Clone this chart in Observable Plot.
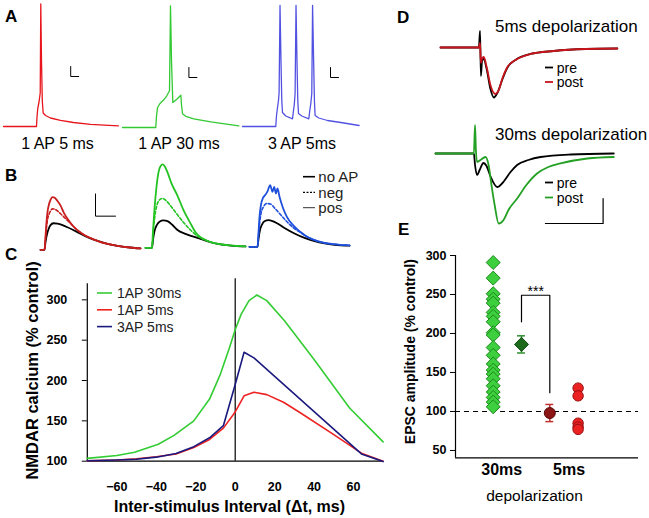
<!DOCTYPE html>
<html><head><meta charset="utf-8">
<script src="https://cdn.jsdelivr.net/npm/d3@7"></script>
<script src="https://cdn.jsdelivr.net/npm/@observablehq/plot@0.6"></script>
<style>
html,body{margin:0;padding:0;background:#fff;}
#fig{position:relative;width:649px;height:518px;overflow:hidden;background:#fff;}
</style></head><body><div id="fig"></div>
<script>
// ================= DATA =================
// Panel A: membrane potential [time ms, Vm mV]
const apLabels = ["1 AP 5 ms", "1 AP 30 ms", "3 AP 5ms"];
const apRed = [[0,-70],[41.25,-70],[41.9,-60.5],[42.9,-51.5],[44.4,-45.5],[45.9,-36.5],[46.6,52.5],[47.5,-4.5],[48.5,-44.5],[49.6,-56.5],[52.5,-59],[58.75,-61.5],[71.25,-63.8],[87.5,-66],[108.75,-67.8],[143.75,-69.3]];
const apGreen = [[0,-70],[41.6,-70],[42.5,-58.3],[43.75,-50.3],[46.6,-46.3],[51.6,-42.3],[55.4,-38.3],[58.75,-33.3],[60,51.7],[61.25,-3.3],[62.9,-45],[67.9,-41.8],[72.9,-37.8],[73.75,-47.3],[75,-56.3],[79.1,-58.8],[89.1,-61.3],[110.4,-64.3],[145.4,-68.3]];
const apBlue = [[0,-70],[41.6,-70],[42.5,-59],[43.75,-51],[45,-44],[45.75,-36],[46.9,51],[48.1,-4],[49.1,-44],[50,-56],[54.1,-59.5],[62.5,-62.3],[63.75,-54],[64.75,-48],[65.75,-37],[66.9,51],[68.1,-4],[69.1,-44],[70,-57],[74.1,-59.5],[82.9,-62.3],[84.1,-54],[85.4,-47],[86.6,-37],[87.6,51],[88.9,-4],[89.9,-44],[90.75,-59],[95.4,-61.5],[106.25,-64],[122.9,-66],[145.75,-69]];
const apBarRed = [[84,-10],[84,-20],[94,-20]];
const apBarGreen = [[83,-10],[83,-20],[93,-20]];
const apBarBlue = [[110,-11],[110,-21],[120,-21]];

// Panel B: NMDAR Ca transients [time ms, dF/F]
const bLegend = ["no AP", "neg", "pos"];
const bRedNo  = [[0,0],[4,0],[5,0.07],[6.5,0.14],[8,0.185],[10,0.222],[13,0.239],[17,0.235],[22,0.222],[27,0.203],[35,0.168],[47,0.114],[57,0.08],[67,0.054],[77,0.036],[87,0.023],[100,0.012]];
const bRedNeg = [[0,0],[4,0],[5,0.1],[6,0.2],[7,0.27],[8.5,0.32],[10,0.35],[12,0.369],[14,0.366],[17,0.35],[20,0.325],[24,0.29],[28,0.255],[33,0.21],[40,0.155],[47,0.118],[53,0.094],[60,0.07],[67,0.054],[77,0.036],[87,0.023],[100,0.012]];
const bRedPos = [[0,0],[4,0],[5,0.12],[6,0.25],[7,0.34],[8.5,0.41],[10,0.45],[12,0.474],[14,0.47],[17,0.44],[20,0.40],[23,0.34],[27,0.28],[33,0.21],[40,0.155],[47,0.118],[53,0.094],[60,0.07],[67,0.054],[77,0.036],[87,0.023],[100,0.012]];
const bGreenNo  = [[0,0],[6.5,0],[7.5,0.07],[9,0.15],[11,0.2],[14,0.235],[18,0.247],[22,0.24],[27,0.205],[32,0.16],[40,0.125],[48,0.1],[55,0.08],[65,0.05],[75,0.03],[85,0.02],[100,0.012]];
const bGreenNeg = [[0,0],[6.5,0],[7.5,0.12],[9,0.26],[11,0.37],[13,0.42],[16.7,0.445],[20,0.43],[24,0.39],[30,0.32],[37,0.24],[45,0.16],[52,0.105],[60,0.07],[65,0.052],[75,0.032],[85,0.021],[100,0.012]];
const bGreenPos = [[0,0],[6.5,0],[7.5,0.15],[9,0.35],[11,0.55],[13,0.68],[15,0.735],[17.3,0.751],[19.5,0.73],[22,0.68],[26,0.58],[31.7,0.475],[38,0.34],[45,0.22],[50,0.14],[55,0.095],[60,0.07],[65,0.052],[75,0.032],[85,0.021],[100,0.012]];
const bBlueNo  = [[0,0],[8,0],[9,0.07],[10.5,0.15],[12.5,0.2],[15,0.23],[19,0.24],[23,0.232],[28,0.21],[35,0.17],[45,0.12],[55,0.08],[65,0.05],[75,0.03],[85,0.018],[100,0.01]];
const bBlueNeg = [[0,0],[8,0],[9,0.1],[10,0.2],[11.5,0.3],[14,0.36],[17.4,0.39],[21,0.385],[25,0.35],[30,0.3],[37,0.23],[44,0.17],[50.7,0.13],[58,0.088],[67.4,0.053],[75,0.035],[84,0.024],[100,0.012]];
const bBluePos = [[0,0],[8,0],[9,0.13],[10,0.27],[11.5,0.38],[13.5,0.44],[15.7,0.466],[18,0.5],[20.7,0.556],[22,0.52],[23,0.495],[24.7,0.54],[26.4,0.48],[28,0.526],[30,0.45],[33.5,0.35],[37.4,0.27],[44,0.19],[50.7,0.135],[58,0.088],[67.4,0.053],[75,0.035],[84,0.024],[100,0.012]];
const bBar = [[55,0.503],[55,0.303],[75,0.303]];

// Panel C: NMDAR calcium vs inter-stimulus interval
const caSeries = ["1AP 30ms", "1AP 5ms", "3AP 5ms"];
const caGreen = [[-75,103.5],[-60,107],[-51,111],[-39,121],[-31,132],[-21,150],[-13,177],[-7.5,208],[-3,240],[0,263],[3,282],[7,299],[11,306],[16,299],[25,274],[40,226],[58,166],[75,124]];
const caRed   = [[-75,100.5],[-60,101.5],[-50,103],[-40,105.5],[-30,109],[-21,117],[-13,127],[-6,141],[0,161],[4.5,181],[9.5,185.5],[16,182.5],[24.5,173],[33,160],[50,133],[64,110],[75,100]];
const caBlue  = [[-75,100.5],[-60,101.5],[-50,102.5],[-40,105],[-30,109.5],[-21,118],[-13,129],[-6,144],[0,195],[4.5,235],[9.5,228],[64,109],[75,99.5]];
const cXTicks = [-60,-40,-20,0,20,40,60];
const cYTicks = [100,150,200,250,300];

// Panel D: EPSC traces [time ms, current pA]
const dLegend = ["pre", "post"];
const dTitles = ["5ms depolarization", "30ms depolarization"];
const d5Pre  = [[0,0],[13.3,0],[13.7,33],[14,-57],[14.4,-27],[15,-23],[16,-43],[17.3,-83],[18.5,-100],[19.7,-91],[21.5,-63],[23.1,-41],[26,-25],[31.2,-13],[39.2,-7],[50.3,-3],[61.3,-2]];
const d5Post = [[0,0],[13.3,0],[13.7,9],[14,-31],[14.4,-22],[15,-19],[16,-39],[17.3,-75],[19,-93],[20.2,-85],[21.5,-61],[23.1,-40],[26,-25],[31.2,-13],[39.2,-7],[50.3,-3],[61.3,-2]];
const d30Pre  = [[0,0],[13.3,0],[13.7,-23],[14.4,-43],[15.3,-33],[16.6,-19],[17.7,-25],[19,-45],[21.4,-67],[23.2,-59],[26,-37],[28.3,-23],[32.2,-13],[36.4,-7],[46.8,-2],[61.8,0]];
const d30Post = [[0,0],[13.3,0],[13.7,57],[14,7],[14.4,-17],[15.6,-13],[17.3,-7],[18.4,-23],[19.4,-63],[20.5,-103],[21.9,-140],[23.6,-133],[25.3,-113],[28.3,-90],[31.5,-63],[35.2,-40],[39.1,-27],[43.3,-20],[52.6,-10],[61.8,-7]];
const dBar = [[38.1,-140],[58.1,-140],[58.1,-90]];

// Panel E: EPSC amplitude (% control)
const eGroups = ["30ms", "5ms"];
const e30 = [291,271,251,244,239,227,222,215,201,198,182,172,161,153,148,142,133,125,118,112,106];
const e5  = [130,120,85,80,77];
const eMean = [186, 98];
const eSem  = [11, 11];
const eYTicks = [50,100,150,200,250,300];
const eBracket = [[1,215],[1,249],[2,249],[2,124]];

// ================= DRAWING =================
const FONT = '"Liberation Sans", Arial, Helvetica, sans-serif';
const fig = document.getElementById("fig");
function place(el, left, top){
  el.style.position = "absolute"; el.style.left = left + "px"; el.style.top = top + "px";
  el.style.overflow = "visible"; el.style.background = "none"; el.style.maxWidth = "none";
  fig.appendChild(el); return el;
}
const xy = {x: d => d[0], y: d => d[1]};
function tracePlot(series, o){
  return Plot.plot({
    width: o.width, height: o.height, margin: 0,
    x: {domain: o.x, axis: null}, y: {domain: o.y, axis: null},
    style: {background: "none", overflow: "visible", fontFamily: FONT},
    marks: series.map(s => Plot.line(s.data, {...xy, stroke: s.color, strokeWidth: s.w ?? 1.5,
      strokeDasharray: s.dash, curve: s.curve ?? "linear"}))
  });
}

// ---- Panel A
const colA = ["#e8161c", "#33c933", "#5252e2"];
const aOpt = {width: 120, height: 130, x: [0,150], y: [-75,55]};
place(tracePlot([{data: apRed, color: colA[0], w: 1.3}, {data: apBarRed, color: "#000", w: 1}], aOpt), 3, 0.5);
place(tracePlot([{data: apGreen, color: colA[1], w: 1.3}, {data: apBarGreen, color: "#000", w: 1}], aOpt), 121.7, 1.7);
place(tracePlot([{data: apBlue, color: colA[2], w: 1.3}, {data: apBarBlue, color: "#000", w: 1}], aOpt), 241.7, 1);

// ---- Panel B
const bOpt = {width: 105, height: 105, x: [0,105], y: [-0.0514, 0.8946]};
const bCol = ["#c81e1e", "#22c322", "#1f50dc"];
const mk = (no, neg, pos, c) => [
  {data: no, color: "#000", w: 1.8, curve: "monotone-x"},
  {data: neg, color: c, w: 1.6, dash: "3,2", curve: "monotone-x"},
  {data: pos, color: c, w: 1.8, curve: "monotone-x"}];
place(tracePlot([...mk(bRedNo, bRedNeg, bRedPos, bCol[0]), {data: bBar, color: "#000", w: 1}], bOpt), 40, 150);
place(tracePlot(mk(bGreenNo, bGreenNeg, bGreenPos, bCol[1]), bOpt), 145, 148.4);
place(tracePlot(mk(bBlueNo, bBlueNeg, bBluePos, bCol[2]), bOpt), 249.3, 147.4);

// ---- Panel C
const cCol = ["#33cc33", "#ee2222", "#1a1a7e"];
const cData = [caGreen, caRed, caBlue];
const cPlot = Plot.plot({
  width: 400, height: 288, marginLeft: 86.8, marginRight: 17.4, marginTop: 53.2, marginBottom: 57.3,
  x: {domain: [-75, 75]}, y: {domain: [100, 320]},
  style: {background: "none", overflow: "visible", fontFamily: FONT},
  marks: [
    Plot.axisX({ticks: cXTicks, tickSize: 0, tickPadding: 21, fontSize: 12.5, fontWeight: "bold", label: null}),
    Plot.axisY({ticks: cYTicks, tickSize: 5, tickPadding: 15, fontSize: 12.5, fontWeight: "bold", label: null}),
    Plot.ruleY([100], {stroke: "#000", strokeWidth: 1.2}),
    Plot.ruleX([-75], {y1: 100, y2: 320, stroke: "#000", strokeWidth: 1.2}),
    Plot.ruleX([0], {y1: 100, y2: 326, stroke: "#000", strokeWidth: 1.2, clip: false}),
    ...cData.map((d, i) => Plot.line(d, {...xy, stroke: cCol[i], strokeWidth: 1.6})),
    Plot.text(["Inter-stimulus Interval (\u0394t, ms)"], {text: d => d, frameAnchor: "bottom", dy: 51, dx: -5.7, fontSize: 16, fontWeight: "bold"}),
    Plot.text(["NMDAR calcium (% control)"], {text: d => d, frameAnchor: "left", textAnchor: "middle", rotate: -90, dx: -55, dy: -2, fontSize: 16.5, fontWeight: "bold"})
  ]
});
place(cPlot, 0, 230);

// ---- Panel D
const pxPerMs = 57.7 / 20;
place(tracePlot([{data: d5Pre, color: "#000", w: 1.8, curve: "monotone-x"}, {data: d5Post, color: "#c8141a", w: 1.8, curve: "monotone-x"}],
  {width: 63 * pxPerMs, height: 90, x: [0, 63], y: [-130, 50]}), 440, 21.7);
place(tracePlot([{data: d30Pre, color: "#000", w: 1.8, curve: "monotone-x"}, {data: d30Post, color: "#24a024", w: 1.8, curve: "monotone-x"},
  {data: dBar, color: "#000", w: 1.2}],
  {width: 63 * pxPerMs, height: 115, x: [0, 63], y: [-160, 70]}), 435, 118.3);

// ---- Panel E
const slot = {raw30: 0, mean30: 1, mean5: 2, raw5: 3};
const eLow = 40.6;
const ePlot = Plot.plot({
  width: 249, height: 273, marginLeft: 55, marginRight: 11, marginTop: 10, marginBottom: 60.7,
  x: {domain: [-1.332, 5.134], axis: null}, y: {domain: [eLow, 300]},
  style: {background: "none", overflow: "visible", fontFamily: FONT},
  marks: [
    Plot.axisY({ticks: eYTicks, tickSize: 5, tickPadding: 4, fontSize: 12.5, fontWeight: "bold", label: null}),
    Plot.ruleX([-1.332], {y1: eLow, y2: 300, stroke: "#000", strokeWidth: 1.2}),
    Plot.ruleY([eLow], {stroke: "#000", strokeWidth: 1.2}),
    Plot.ruleY([100], {stroke: "#000", strokeWidth: 1.2, strokeDasharray: "5,4"}),
    Plot.line(eBracket, {...xy, stroke: "#000", strokeWidth: 1.2}),
    Plot.text(["***"], {x: 1.5, y: 254, text: d => d, fontSize: 14}),
    Plot.dot(e30, {x: slot.raw30, y: d => d, symbol: "diamond2", r: 6.3, fill: "#3dcf3d", stroke: "#1d8a1d", strokeWidth: 1}),
    Plot.dot(e5, {x: slot.raw5, y: d => d, r: 5.2, fill: "#ea2222", stroke: "#9a1010", strokeWidth: 1}),
    Plot.ruleX([0], {x: slot.mean30, y1: eMean[0] - eSem[0], y2: eMean[0] + eSem[0], stroke: "#2f8f2f", strokeWidth: 1.5}),
    Plot.ruleY([eMean[0] - eSem[0], eMean[0] + eSem[0]], {x1: slot.mean30 - 0.14, x2: slot.mean30 + 0.14, stroke: "#2f8f2f", strokeWidth: 1.5}),
    Plot.ruleX([0], {x: slot.mean5, y1: eMean[1] - eSem[1], y2: eMean[1] + eSem[1], stroke: "#c23030", strokeWidth: 1.5}),
    Plot.ruleY([eMean[1] - eSem[1], eMean[1] + eSem[1]], {x1: slot.mean5 - 0.14, x2: slot.mean5 + 0.14, stroke: "#c23030", strokeWidth: 1.5}),
    Plot.dot([eMean[0]], {x: slot.mean30, y: d => d, symbol: "diamond2", r: 6.3, fill: "#1d6a1d", stroke: "#0f4a0f", strokeWidth: 1}),
    Plot.dot([eMean[1]], {x: slot.mean5, y: d => d, r: 5.5, fill: "#8c1616", stroke: "#5a0a0a", strokeWidth: 1}),
    Plot.text([eGroups[0]], {x: (slot.raw30 + slot.mean30) / 2 - 0.2, text: d => d, frameAnchor: "bottom", dy: 17.3, fontSize: 16, fontWeight: "bold"}),
    Plot.text([eGroups[1]], {x: (slot.mean5 + slot.raw5) / 2 + 0.18, text: d => d, frameAnchor: "bottom", dy: 17.3, fontSize: 16, fontWeight: "bold"}),
    Plot.text(["depolarization"], {text: d => d, frameAnchor: "bottom", dy: 42.7, dx: -12.5, fontSize: 15.5}),
    Plot.text(["EPSC amplitude (% control)"], {text: d => d, frameAnchor: "left", textAnchor: "middle", rotate: -90, dx: -45, dy: -5, fontSize: 14, fontWeight: "bold"})
  ]
});
place(ePlot, 400, 245);

// ---- Overlay: panel letters, captions, legends
const ov = d3.create("svg").attr("width", 649).attr("height", 518)
  .attr("font-family", FONT)
  .style("position", "absolute").style("left", "0px").style("top", "0px").style("overflow", "visible");
function txt(str, x, y, {size = 14, weight = "normal", anchor = "start", base = "alphabetic", fill = "#000"} = {}) {
  ov.append("text").attr("x", x).attr("y", y).attr("font-size", size).attr("font-weight", weight)
    .attr("text-anchor", anchor).attr("dominant-baseline", base).attr("fill", fill).text(str);
}
function seg(x1, y1, x2, y2, {stroke = "#000", w = 1.5, dash = null} = {}) {
  ov.append("line").attr("x1", x1).attr("y1", y1).attr("x2", x2).attr("y2", y2)
    .attr("stroke", stroke).attr("stroke-width", w).attr("stroke-dasharray", dash);
}
// panel letters
[["A", 5, 22], ["B", 5, 181], ["C", 5, 260], ["D", 397, 23], ["E", 398, 235]]
  .forEach(([s, x, y]) => txt(s, x, y, {size: 17, weight: "bold"}));
// A captions
[57.5, 179, 302].forEach((cx, i) => txt(apLabels[i], cx, 149, {size: 16, anchor: "middle"}));
// B legend
seg(303, 176.7, 315, 176.7, {w: 1.6});
seg(303, 192.3, 315, 192.3, {w: 1.2, dash: "2,1.5"});
seg(303, 207.7, 315, 207.7, {w: 1, stroke: "#333"});
bLegend.forEach((s, i) => txt(s, 318.3, [176.7, 192.3, 207.7][i], {size: 15, base: "central", fill: "#222"}));
// C legend
caSeries.forEach((s, i) => {
  const y = 293 + i * 16.8;
  seg(97, y, 112, y, {stroke: cCol[i], w: 1.6});
  txt(s, 117, y, {size: 14, base: "central", fill: "#222"});
});
// D titles + legends
txt(dTitles[0], 495, 32, {size: 17});
txt(dTitles[1], 495, 140, {size: 17});
[[67.5, "#000"], [82, "#c8141a"]].forEach(([y, c], i) => { seg(545, y, 553, y, {stroke: c, w: 1.8}); txt(dLegend[i], 556.7, y, {size: 14, base: "central"}); });
[[182.5, "#000"], [197.5, "#24a024"]].forEach(([y, c], i) => { seg(545, y, 553, y, {stroke: c, w: 1.8}); txt(dLegend[i], 556.7, y, {size: 14, base: "central"}); });
fig.appendChild(ov.node());
</script></body></html>
